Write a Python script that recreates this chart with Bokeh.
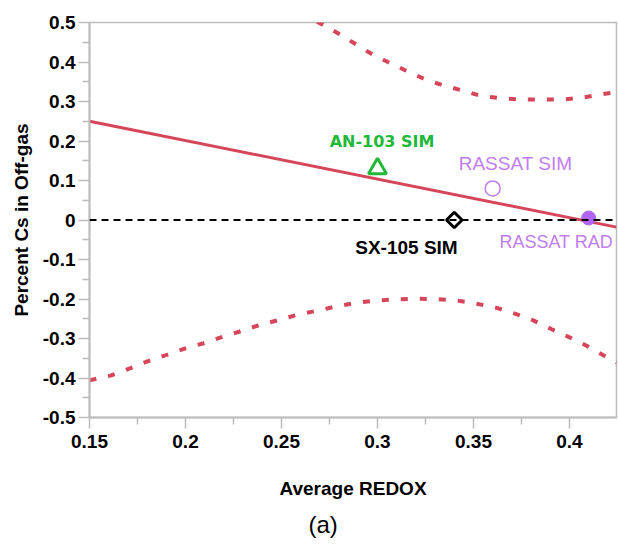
from bokeh.plotting import figure
from bokeh.models import Range1d, FixedTicker, Title, Span
from bokeh.core.properties import value
from bokeh.embed import file_html
from bokeh.resources import INLINE

# ---- data ----
x_ticks = [0.15, 0.2, 0.25, 0.3, 0.35, 0.4]
x_tick_labels = ["0.15", "0.2", "0.25", "0.3", "0.35", "0.4"]
x_minor = [0.175, 0.225, 0.275, 0.325, 0.375, 0.425]
y_ticks = [-0.5, -0.4, -0.3, -0.2, -0.1, 0.0, 0.1, 0.2, 0.3, 0.4, 0.5]
y_tick_labels = ["-0.5", "-0.4", "-0.3", "-0.2", "-0.1", "0", "0.1", "0.2", "0.3", "0.4", "0.5"]
y_minor = [-0.45, -0.35, -0.25, -0.15, -0.05, 0.05, 0.15, 0.25, 0.35, 0.45]

# fitted line end points
fit_x = [0.15, 0.4245]
fit_y = [0.25, -0.018]

# upper confidence band
upper_x = [0.2685, 0.2790, 0.2877, 0.2964, 0.3054, 0.3149, 0.3245, 0.3342, 0.3441,
           0.3540, 0.3644, 0.3748, 0.3853, 0.3957, 0.4057, 0.4161, 0.4248]
upper_y = [0.502, 0.474, 0.448, 0.422, 0.400, 0.378, 0.357, 0.341, 0.328,
           0.314, 0.308, 0.305, 0.305, 0.305, 0.309, 0.318, 0.324]

# lower confidence band
lower_x = [0.1500, 0.1609, 0.1714, 0.1802, 0.1906, 0.2000, 0.2094, 0.2198, 0.2297,
           0.2391, 0.2495, 0.2589, 0.2693, 0.2792, 0.2896, 0.3000, 0.3104, 0.3208,
           0.3313, 0.3417, 0.3516, 0.3618, 0.3715, 0.3811, 0.3905, 0.4000, 0.4092,
           0.4179, 0.4245]
lower_y = [-0.406, -0.394, -0.375, -0.358, -0.341, -0.325, -0.312, -0.295, -0.280,
           -0.265, -0.252, -0.239, -0.229, -0.218, -0.209, -0.204, -0.2005, -0.1995,
           -0.2005, -0.204, -0.212, -0.222, -0.237, -0.254, -0.276, -0.297, -0.319,
           -0.343, -0.361]

# observations
names = ["AN-103 SIM", "RASSAT SIM", "SX-105 SIM", "RASSAT RAD"]
redox = [0.30, 0.36, 0.34, 0.41]
pct_cs = [0.13, 0.08, 0.0, 0.005]

RED = "#d6455a"
GREEN = "#22b83a"
PURPLE = "#c27cf4"
PURPLE_FILL = "#b066f2"
GRAY = "#bcbcbc"
SANS = "Liberation Sans"

p = figure(width=618, height=544, output_backend="svg", toolbar_location=None,
           x_range=Range1d(0.15, 0.4245), y_range=Range1d(-0.5, 0.5),
           min_border_left=89, min_border_right=2, min_border_top=22, min_border_bottom=127)
p.grid.visible = False
p.outline_line_color = GRAY
p.outline_line_width = 1.5
p.background_fill_color = "white"
p.border_fill_color = "white"

# axes
for ax in (p.xaxis[0], p.yaxis[0]):
    ax.axis_line_color = GRAY
    ax.axis_line_width = 2
    ax.major_tick_line_color = GRAY
    ax.minor_tick_line_color = GRAY
    ax.major_tick_line_width = 1.5
    ax.minor_tick_line_width = 1.5
    ax.major_tick_out = 11
    ax.major_tick_in = 0
    ax.minor_tick_out = 7
    ax.minor_tick_in = 0
    ax.major_label_text_font = SANS
    ax.major_label_text_font_style = "bold"
    ax.major_label_text_font_size = "19px"
    ax.major_label_text_color = "black"
    ax.axis_label_text_font = SANS
    ax.axis_label_text_font_style = "bold"
    ax.axis_label_text_font_size = "19px"
    ax.axis_label_text_color = "black"

p.xaxis.ticker = FixedTicker(ticks=x_ticks, minor_ticks=x_minor)
p.yaxis.ticker = FixedTicker(ticks=y_ticks, minor_ticks=y_minor)
p.xaxis.major_label_overrides = {t: l for t, l in zip(x_ticks, x_tick_labels)}
p.yaxis.major_label_overrides = {t: l for t, l in zip(y_ticks, y_tick_labels)}
p.xaxis.axis_label = "Average REDOX"
p.yaxis.axis_label = "Percent Cs in Off-gas"
p.xaxis.major_label_standoff = 6
p.yaxis.major_label_standoff = 3
p.xaxis.axis_label_standoff = 27
p.yaxis.axis_label_standoff = 8

# zero reference line
p.add_layout(Span(location=0, dimension="width", line_color="black",
                  line_width=2, line_dash="7 5"))

# fit and confidence bands
p.line(fit_x, fit_y, line_color=RED, line_width=3)
p.line(upper_x, upper_y, line_color=RED, line_width=4, line_dash="7 12")
p.line(lower_x, lower_y, line_color=RED, line_width=4, line_dash="7 12")

# points
p.scatter([redox[0]], [pct_cs[0]], marker="triangle", size=18, line_color=GREEN,
          line_width=3, fill_color="white")
p.scatter([redox[1]], [pct_cs[1]], marker="circle", size=15, line_color=PURPLE,
          line_width=1.5, fill_color="white")
p.scatter([redox[2]], [pct_cs[2]], marker="square", size=11, angle=0.7854,
          line_color="black", line_width=3, fill_color="white")
p.scatter([redox[3]], [pct_cs[3]], marker="circle", size=14, line_color=PURPLE_FILL,
          fill_color=PURPLE_FILL)

# point labels
p.text(x=[redox[0] + 0.0024], y=[pct_cs[0] + 0.069], text=[names[0]],
       text_font=value("DejaVu Sans"), text_font_style="bold", text_font_size="16px",
       text_color=GREEN, text_align="center", text_baseline="middle")
p.text(x=[redox[1] + 0.0119], y=[pct_cs[1] + 0.062], text=[names[1]],
       text_font=value(SANS), text_font_size="19px",
       text_color=PURPLE, text_align="center", text_baseline="middle")
p.text(x=[redox[2] - 0.0249], y=[pct_cs[2] - 0.069], text=[names[2]],
       text_font=value(SANS), text_font_style="bold", text_font_size="19px",
       text_color="black", text_align="center", text_baseline="middle")
p.text(x=[redox[3] - 0.0465], y=[pct_cs[3] - 0.061], text=[names[3]],
       text_font=value(SANS), text_font_size="18px",
       text_color=PURPLE, text_align="left", text_baseline="middle")

# caption
p.add_layout(Title(text="(a)", align="left", offset=219, standoff=14, text_font=SANS,
                   text_font_style="normal", text_font_size="24px",
                   text_color="black"), "below")

open("out.html", "w").write(file_html(p, INLINE))
